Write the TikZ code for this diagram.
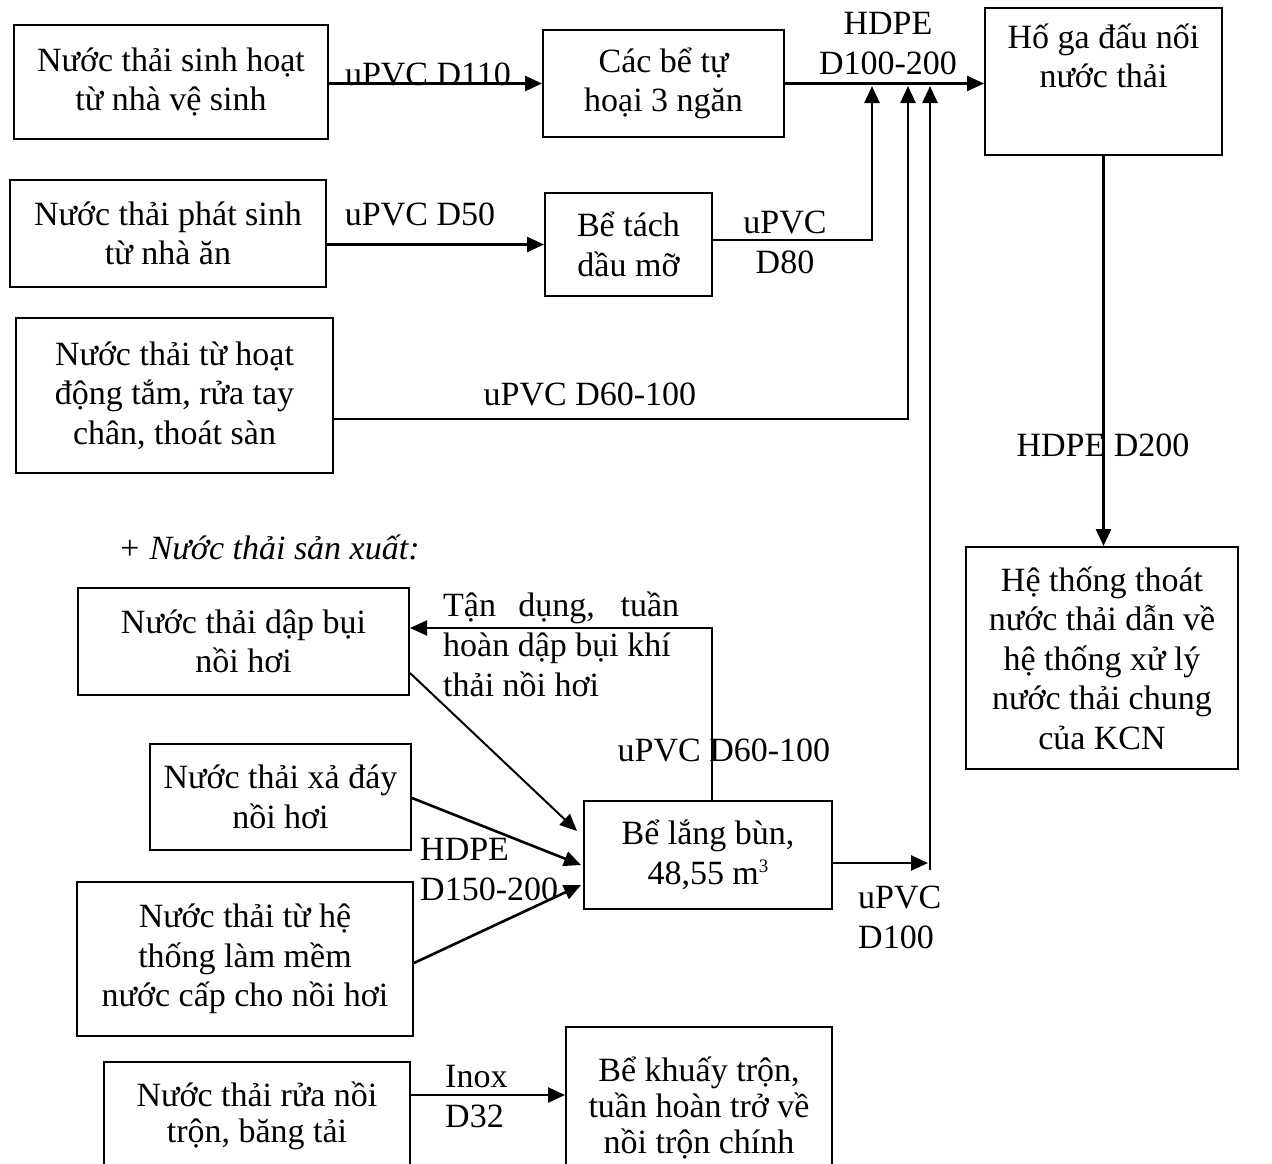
\documentclass[tikz,border=0pt]{standalone}
\usepackage{fontspec}
\setmainfont{Liberation Serif}
\usetikzlibrary{arrows.meta}
\begin{document}
\begin{tikzpicture}[x=1pt,y=-1pt,
  box/.style={draw, line width=2pt, align=center, inner sep=0pt, font=\fontsize{34}{39.5}\selectfont},
  tightbox/.style={box, font=\fontsize{34}{36}\selectfont},
  lbl/.style={inner sep=0pt, font=\fontsize{34}{40}\selectfont},
  conn/.style={line width=2.6pt, -{Triangle[length=17pt,width=15pt]}},
  thinconn/.style={line width=2pt, -{Triangle[length=17pt,width=15pt]}}]
\useasboundingbox (0,0) rectangle (1272,1164);
\clip (0,0) rectangle (1272,1164);
% boxes
\node[box, minimum width=314pt, minimum height=113pt] (b1) at (171,82) {Nước thải sinh hoạt\\từ nhà vệ sinh};
\node[box, minimum width=241pt, minimum height=107pt] (b2) at (663.5,83.5) {Các bể tự\\hoại 3 ngăn};
\node[box, minimum width=237pt, minimum height=147pt] (b3) at (1103.5,81.5) {Hố ga đấu nối\\nước thải\\\strut};
\node[box, minimum width=316pt, minimum height=107pt] (b4) at (168,233.5) {Nước thải phát sinh\\từ nhà ăn};
\node[box, minimum width=167pt, minimum height=103pt] (b5) at (628.5,244.5) {Bể tách\\dầu mỡ};
\node[box, minimum width=317pt, minimum height=155pt] (b6) at (174.5,395.5) {Nước thải từ hoạt\\động tắm, rửa tay\\chân, thoát sàn};
\node[box, minimum width=272pt, minimum height=222pt] (b7) at (1102,658) {Hệ thống thoát\\nước thải dẫn về\\hệ thống xử lý\\nước thải chung\\của KCN};
\node[box, minimum width=331pt, minimum height=107pt] (b9) at (243.5,641.5) {Nước thải dập bụi\\nồi hơi};
\node[box, minimum width=261pt, minimum height=106pt] (b10) at (280.5,797) {Nước thải xả đáy\\nồi hơi};
\node[box, minimum width=248pt, minimum height=108pt] (b11) at (708,855) {Bể lắng bùn,\\48,55 m\raisebox{12pt}{\fontsize{19}{19}\selectfont 3}};
\node[box, minimum width=336pt, minimum height=154pt] (b12) at (245,959) {Nước thải từ hệ\\thống làm mềm\\nước cấp cho nồi hơi};
\node[tightbox, minimum width=306pt, minimum height=108pt] (b13) at (257,1116) {Nước thải rửa nồi\\trộn, băng tải};
\node[tightbox, minimum width=266pt, minimum height=162pt] (b14) at (699,1108) {Bể khuấy trộn,\\tuần hoàn trở về\\nồi trộn chính};
% section heading
\node[lbl, anchor=west, font=\fontsize{34}{40}\selectfont\itshape] (hd) at (118,547) {+ Nước thải sản xuất:};
% junction coordinates
\coordinate (m1) at (872,86);
\coordinate (m2) at (908,86);
\coordinate (m3) at (930,86);
\coordinate (c5) at (872,240);
\coordinate (c6) at (908,419);
\coordinate (c11a) at (928,863);
\coordinate (c11b) at (930,870);
\coordinate (c9) at (712,628);
\coordinate (c13) at (490,1095);
% connectors
\draw[conn] (b1.east |- b2.west) -- (b2.west);
\draw[conn] (b2.east) -- (b3.west |- b2.east);
\draw[conn] (b4.east |- b5.west) -- (b5.west);
\draw[conn] (b5.east |- c5) -- (c5) -- (m1);
\draw[conn] (b6.east |- c6) -- (c6) -- (m2);
\draw[conn] (b11.east |- c11a) -- (c11a);
\draw[conn] (c11b) -- (m3);
\draw[conn] (b3.south) -- (b3.south |- b7.north);
\draw[thinconn] (b11.north -| c9) -- (c9) -- (b9.east |- c9);
\draw[thinconn] ([yshift=-31.5pt]b9.east) -- ([xshift=-6pt,yshift=24pt]b11.west);
\draw[conn] ([yshift=-1pt]b10.east) -- ([xshift=-2pt,yshift=-10pt]b11.west);
\draw[conn] ([yshift=-4pt]b12.east) -- ([xshift=-2pt,yshift=-30pt]b11.west);
\draw[conn] (b13.east |- c13) -- (b14.west |- c13);
% labels
\node[lbl] (l1) at (428,74) {uPVC D110};
\node[lbl, align=center] (l2) at (888,44) {HDPE\\D100-200};
\node[lbl] (l3) at (420,214) {uPVC D50};
\node[lbl, align=center] (l4) at (785,242) {uPVC\\D80};
\node[lbl] (l5) at (590,394) {uPVC D60-100};
\node[lbl] (l6) at (1103,445) {HDPE D200};
\node[lbl, align=left, anchor=west] (l7) at (443,644) {\makebox[236pt][s]{Tận dụng, tuần}\\hoàn dập bụi khí\\thải nồi hơi};
\node[lbl] (l8) at (724,750) {uPVC D60-100};
\node[lbl, align=left, anchor=west] (l9) at (420,870) {HDPE\\D150-200};
\node[lbl, align=left, anchor=west] (l10) at (858,917) {uPVC\\D100};
\node[lbl, align=left, anchor=west] (l11) at (445,1097) {Inox\\D32};
\end{tikzpicture}
\end{document}
